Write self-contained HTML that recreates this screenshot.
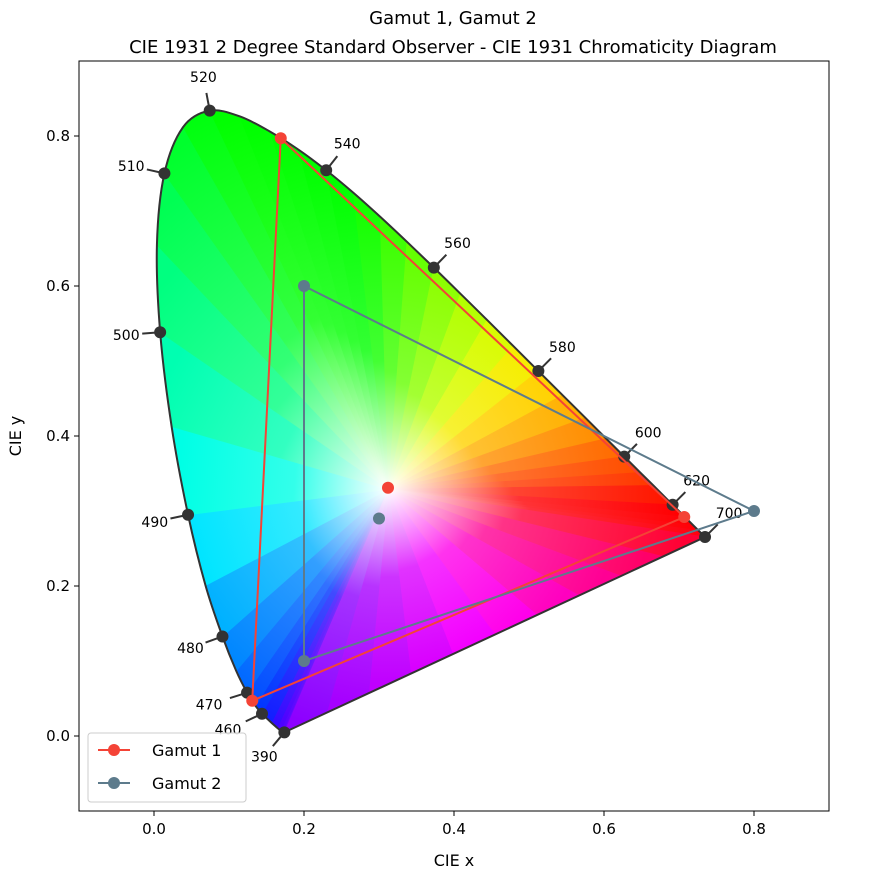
<!DOCTYPE html>
<html><head><meta charset="utf-8"><style>
html,body{margin:0;padding:0;background:#fff;}
svg{display:block;font-family:"DejaVu Sans","Liberation Sans",sans-serif;}
</style></head><body>
<svg id="chart" width="891" height="877" viewBox="0 0 891 877" xmlns="http://www.w3.org/2000/svg">
<defs id="defs"><clipPath id="locusClip"><path id="clipPath" d=""/></clipPath></defs>
<text x="453" y="24" text-anchor="middle" font-size="18">Gamut 1, Gamut 2</text>
<text x="453" y="53" text-anchor="middle" font-size="18">CIE 1931 2 Degree Standard Observer - CIE 1931 Chromaticity Diagram</text>
<g id="fill" clip-path="url(#locusClip)"></g>
<g id="marks"></g>
<rect x="79" y="61" width="750" height="750" fill="none" stroke="#000" stroke-width="1"/>
<g id="axes"></g>
<text x="454" y="866" text-anchor="middle" font-size="16">CIE x</text>
<text x="21" y="436" text-anchor="middle" font-size="16" transform="rotate(-90 21 436)">CIE y</text>
<g>
<rect x="88" y="733" width="158" height="69" rx="3" fill="#fff" fill-opacity="0.85" stroke="#ccc"/>
<g>
<line x1="98" y1="750" x2="130" y2="750" stroke="#f44336" stroke-width="2"/>
<circle cx="114" cy="750" r="6" fill="#f44336"/>
<text x="152" y="756" font-size="16">Gamut 1</text></g>
<g>
<line x1="98" y1="783" x2="130" y2="783" stroke="#5d7b8c" stroke-width="2"/>
<circle cx="114" cy="783" r="6" fill="#5d7b8c"/>
<text x="152" y="789" font-size="16">Gamut 2</text></g>
</g>
</svg>
<script>
const wavelengths=[380,390,400,420,430,440,450,460,465,470,475,480,485,490,495,500,505,510,515,520,525,530,535,540,545,550,555,560,565,570,575,580,585,590,595,600,605,610,620,630,640,650,700];
const locusX=[0.1741,0.1738,0.1733,0.1714,0.1689,0.1644,0.1566,0.1440,0.1355,0.1241,0.1096,0.0913,0.0687,0.0454,0.0235,0.0082,0.0039,0.0139,0.0389,0.0743,0.1142,0.1547,0.1929,0.2296,0.2658,0.3016,0.3373,0.3731,0.4087,0.4441,0.4788,0.5125,0.5448,0.5752,0.6029,0.6270,0.6482,0.6658,0.6915,0.7079,0.7190,0.7260,0.7347];
const locusY=[0.0050,0.0049,0.0048,0.0051,0.0069,0.0109,0.0177,0.0297,0.0399,0.0578,0.0868,0.1327,0.2007,0.2950,0.4127,0.5384,0.6548,0.7502,0.8120,0.8338,0.8262,0.8059,0.7816,0.7543,0.7243,0.6923,0.6589,0.6245,0.5896,0.5547,0.5202,0.4866,0.4544,0.4242,0.3965,0.3725,0.3514,0.3340,0.3083,0.2920,0.2809,0.2740,0.2653];
const labelWavelengths=[390,460,470,480,490,500,510,520,540,560,580,600,620,700];
const gamut1X=[0.707,0.169,0.131];
const gamut1Y=[0.292,0.797,0.047];
const gamut1White=[0.312,0.331];
const gamut2X=[0.8,0.2,0.2];
const gamut2Y=[0.3,0.6,0.1];
const gamut2White=[0.3,0.29];
const xTicks=[0.0,0.2,0.4,0.6,0.8];
const yTicks=[0.0,0.2,0.4,0.6,0.8];

const NS="http://www.w3.org/2000/svg";
function sx(v){return 154+(v)*750;}
function sy(v){return 736-(v)*750;}
function mk(tag,attrs,parent){const e=document.createElementNS(NS,tag);for(const k in attrs)e.setAttribute(k,attrs[k]);parent.appendChild(e);return e;}

const anchors=[[380,[128,0,255]],[440,[70,0,255]],[460,[0,40,255]],[470,[0,90,255]],[480,[0,150,255]],[490,[0,255,255]],[500,[0,255,150]],[510,[0,255,60]],[520,[0,255,0]],[545,[0,255,0]],[560,[120,255,0]],[570,[200,255,0]],[578,[255,240,0]],[590,[255,160,0]],[600,[255,90,0]],[620,[255,0,0]],[700,[255,0,20]]];
function wlColor(w){for(let i=0;i<anchors.length-1;i++){const a=anchors[i],b=anchors[i+1];if(w<=b[0]){const t=(w-a[0])/(b[0]-a[0]);return a[1].map((c,j)=>Math.round(c+(b[1][j]-c)*t));}}return anchors[anchors.length-1][1];}
function purpleColor(t){const a=[255,0,40],m=[255,0,255],b=[128,0,255];if(t<0.5){const u=t/0.5;return a.map((c,j)=>Math.round(c+(m[j]-c)*u));}const u=(t-0.5)/0.5;return m.map((c,j)=>Math.round(c+(b[j]-c)*u));}

const defs=document.getElementById('defs');
const fillG=document.getElementById('fill');
const marks=document.getElementById('marks');
const axes=document.getElementById('axes');
const W=[0.3127,0.329];

// smooth locus path (Catmull-Rom), closed with straight purple line
const P=wavelengths.map((w,i)=>[sx(locusX[i]),sy(locusY[i])]);
let d='M'+P[0][0]+','+P[0][1];
for(let i=0;i<P.length-1;i++){
  const p0=P[Math.max(0,i-1)],p1=P[i],p2=P[i+1],p3=P[Math.min(P.length-1,i+2)];
  const c1=[p1[0]+(p2[0]-p0[0])/6,p1[1]+(p2[1]-p0[1])/6];
  const c2=[p2[0]-(p3[0]-p1[0])/6,p2[1]-(p3[1]-p1[1])/6];
  d+=' C'+c1.join(',')+' '+c2.join(',')+' '+p2.join(',');
}
d+=' Z';
document.getElementById('clipPath').setAttribute('d',d);

const bnd=[];
for(let i=0;i<wavelengths.length;i++)bnd.push([locusX[i],locusY[i],wlColor(wavelengths[i])]);
const n=10,last=wavelengths.length-1;
for(let k=1;k<n;k++){const t=k/n;bnd.push([locusX[last]+(locusX[0]-locusX[last])*t,locusY[last]+(locusY[0]-locusY[last])*t,purpleColor(t)]);}
for(let i=0;i<bnd.length;i++){
  const p=bnd[i],q=bnd[(i+1)%bnd.length];
  const c=p[2].map((v,j)=>Math.round((v+q[2][j])/2));
  const id='g'+i;
  const g=mk('linearGradient',{id:id,gradientUnits:'userSpaceOnUse',x1:sx((p[0]+q[0])/2),y1:sy((p[1]+q[1])/2),x2:sx(W[0]),y2:sy(W[1])},defs);
  mk('stop',{offset:'0','stop-color':'rgb('+c+')'},g);
  mk('stop',{offset:'0.55','stop-color':'rgb('+c.map(v=>Math.round(v*0.8+255*0.2))+')'},g);
  mk('stop',{offset:'1','stop-color':'#fff'},g);
  // extend the outer edge slightly beyond the locus (clipped anyway)
  const ex=(pt)=>[W[0]+(pt[0]-W[0])*1.08,W[1]+(pt[1]-W[1])*1.08];
  const pe=ex(p),qe=ex(q);
  const tri=mk('polygon',{points:[[sx(W[0]),sy(W[1])],[sx(pe[0]),sy(pe[1])],[sx(qe[0]),sy(qe[1])]].map(a=>a.join(',')).join(' '),fill:'url(#'+id+')',stroke:'url(#'+id+')','stroke-width':'0.8'},fillG);
  
  
}
const outline=mk('path',{d:d,fill:'none',stroke:'#333','stroke-width':'2'},marks);



const labelOverride={390:[-20,24],460:[-34,16],470:[-38,12]};
labelWavelengths.forEach(w=>{
  const i=wavelengths.indexOf(w);
  const a=Math.max(0,i-1),b=Math.min(last,i+1);
  let tx=locusX[b]-locusX[a],ty=locusY[b]-locusY[a];
  const L=Math.hypot(tx,ty);tx/=L;ty/=L;
  let dx=-ty,dy=-tx;
  const px=sx(locusX[i]),py=sy(locusY[i]);
  let lx=px+dx*34,ly=py+dy*34;
  if(labelOverride[w]){const o=labelOverride[w];const m=Math.hypot(o[0],o[1]);dx=o[0]/m;dy=o[1]/m;lx=px+o[0];ly=py+o[1];}
  const tk=mk('line',{x1:px,y1:py,x2:px+dx*18,y2:py+dy*18,stroke:'#333','stroke-width':'2'},marks);
  
  
  const c=mk('circle',{cx:px,cy:py,r:6,fill:'#333'},marks);
  
  
  const t=mk('text',{x:lx,y:ly+5,'text-anchor':'middle','font-size':'14'},marks);
  t.textContent=w;
  
  
});

function gamut(xs,ys,wp,color,name){
  const pts=xs.map((x,i)=>sx(x)+','+sy(ys[i])).join(' ');
  const pl=mk('polygon',{points:pts,fill:'none',stroke:color,'stroke-width':'2'},marks);
  
  
  xs.forEach((x,i)=>{
    const c=mk('circle',{cx:sx(x),cy:sy(ys[i]),r:6,fill:color},marks);
    
    
  });
  const c=mk('circle',{cx:sx(wp[0]),cy:sy(wp[1]),r:6,fill:color},marks);
  
  
}
gamut(gamut1X,gamut1Y,gamut1White,'#f44336','gamut-1');
gamut(gamut2X,gamut2Y,gamut2White,'#5d7b8c','gamut-2');

xTicks.forEach(v=>{
  const l=mk('line',{x1:sx(v),y1:811,x2:sx(v),y2:816,stroke:'#000'},axes);
  
  
  const t=mk('text',{x:sx(v),y:834,'text-anchor':'middle','font-size':'15'},axes);
  t.textContent=v.toFixed(1);
  
  
});
yTicks.forEach(v=>{
  const l=mk('line',{x1:74,y1:sy(v),x2:79,y2:sy(v),stroke:'#000'},axes);
  
  
  const t=mk('text',{x:70,y:sy(v)+5,'text-anchor':'end','font-size':'15'},axes);
  t.textContent=v.toFixed(1);
  
  
});
</script>
</body></html>
